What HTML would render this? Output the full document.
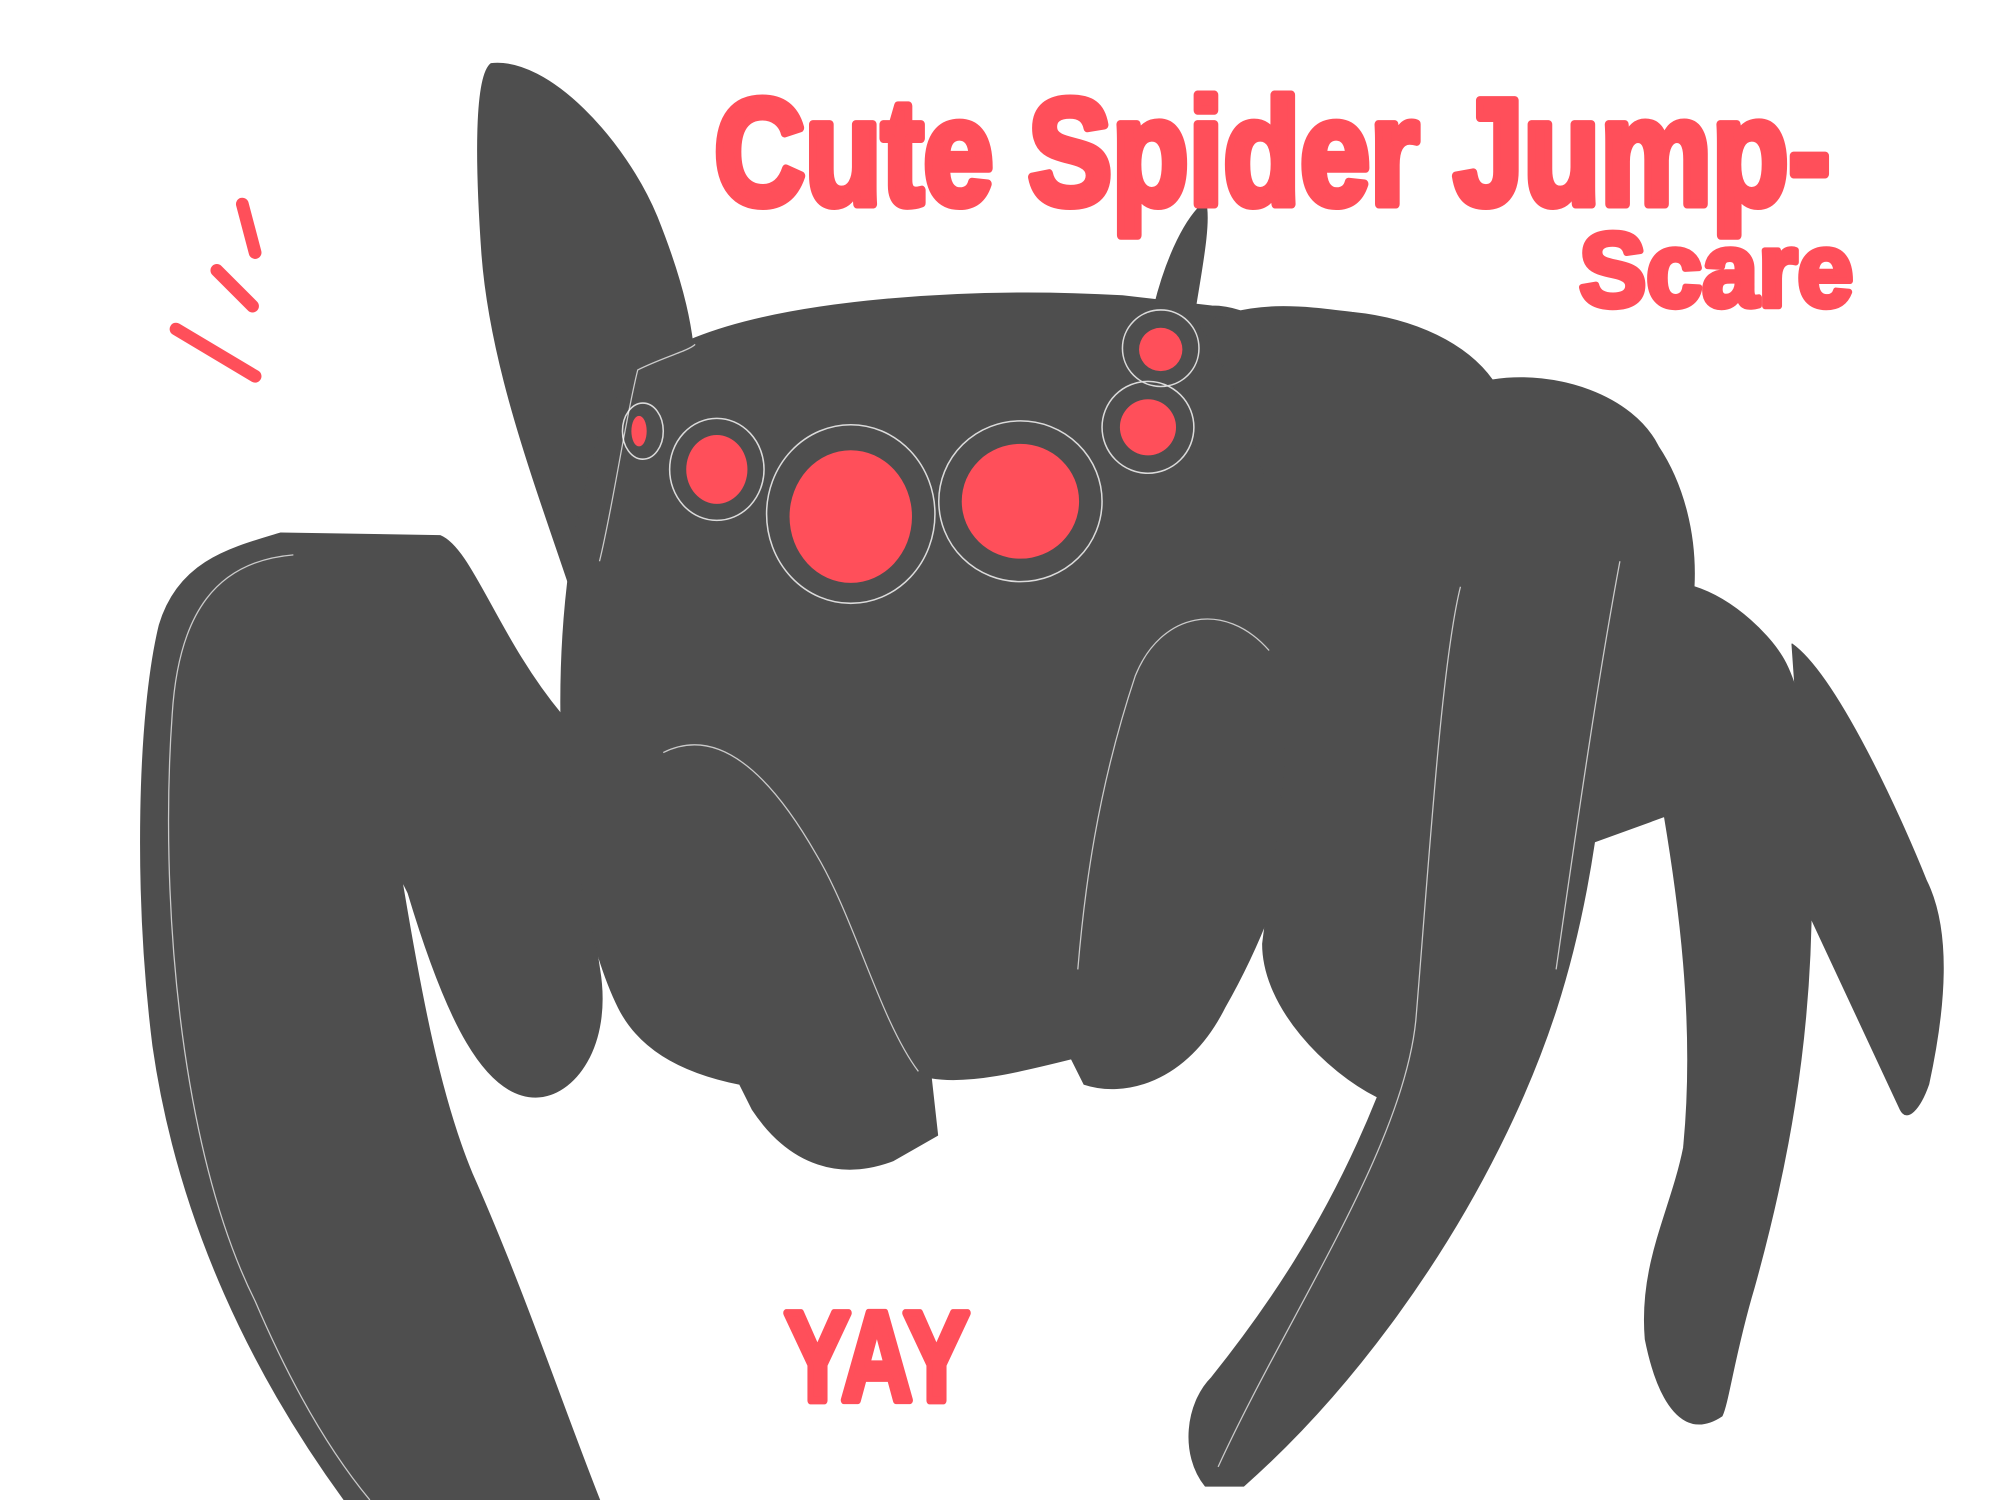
<!DOCTYPE html>
<html>
<head>
<meta charset="utf-8">
<style>
html,body{margin:0;padding:0;background:#fff;}
svg{display:block;}
</style>
</head>
<body>
<svg width="2000" height="1500" viewBox="0 0 1568 1176" xmlns="http://www.w3.org/2000/svg">
<rect width="1568" height="1176" fill="#ffffff"/>
<g fill="#4e4e4e" stroke="#4e4e4e" stroke-linejoin="round">
  <path d="M385,50 C430,45 490,110 515,170 C535,220 545,260 545,300 L490,320 L470,440 L450,470 C420,380 385,290 378,200 C373,130 372,60 385,50 Z"/>
  <path d="M220,418 L345,420 C370,430 390,500 440,560 L470,760 C480,820 450,860 420,860 C380,860 350,800 320,700 L315,690 C330,780 345,860 370,920 C410,1010 440,1100 470,1176 L270,1176 C200,1080 140,960 120,820 C105,700 108,560 125,490 C140,440 180,430 220,418 Z"/>
  <path d="M545,265 C620,235 760,225 880,232 L950,240 C980,240 1010,260 1020,300 C1040,380 1035,480 1030,560 C1025,640 1000,720 960,790 C930,850 880,860 850,850 L840,830 C800,840 760,850 730,845 L735,890 L700,910 C660,925 620,915 590,870 L580,850 C530,840 500,820 485,790 C460,740 445,650 440,570 C438,480 450,400 470,340 C490,290 510,280 545,265 Z"/>
  <path d="M905,240 C915,200 930,170 945,158 C950,175 940,220 935,255 Z"/>
  <path d="M940,255 C980,235 1020,240 1060,245 C1110,250 1150,270 1170,298 C1220,290 1280,310 1300,350 C1320,380 1330,420 1328,460 C1360,470 1390,500 1400,520 C1420,560 1420,620 1420,700 C1420,820 1400,920 1375,1010 C1360,1060 1355,1100 1350,1110 C1320,1130 1300,1100 1290,1050 C1285,990 1310,950 1320,900 C1330,800 1315,700 1305,640 L1250,660 C1235,760 1210,830 1175,900 C1130,990 1060,1090 975,1165 L945,1165 C925,1140 930,1100 950,1080 C990,1030 1040,960 1080,860 C1040,840 990,790 990,740 C1000,660 1010,600 1010,520 C1005,420 990,330 940,255 Z"/>
  <path d="M1405,505 C1440,530 1490,640 1510,690 C1530,730 1525,790 1512,850 C1505,870 1495,880 1490,870 L1420,720 Z"/>
</g>
<g fill="none" stroke="#ffffff" stroke-width="1" opacity="0.7">
  <path d="M230,435 C170,440 140,480 135,560 C125,700 140,900 200,1020 C230,1090 260,1140 290,1176"/>
  <path d="M520,590 C560,570 600,600 640,670 C670,720 690,800 720,840"/>
  <path d="M995,510 C960,470 910,480 890,530 C860,620 850,700 845,760"/>
  <path d="M1145,460 C1130,520 1120,680 1110,800 C1100,900 1010,1030 955,1150"/>
  <path d="M1270,440 C1255,520 1240,620 1220,760"/>
  <path d="M470,440 C480,400 490,330 500,290 C520,280 540,275 545,270"/>
</g>
<g fill="none" stroke="#ffffff" stroke-width="1.2" opacity="0.8">
  <ellipse cx="667" cy="403" rx="66" ry="70"/>
  <ellipse cx="800" cy="393" rx="64" ry="63"/>
  <ellipse cx="562" cy="368" rx="37" ry="40"/>
  <ellipse cx="504" cy="338" rx="16" ry="22"/>
  <ellipse cx="910" cy="273" rx="30" ry="30"/>
  <ellipse cx="900" cy="335" rx="36" ry="36"/>
</g>
<g fill="#ff4f5a">
  <ellipse cx="667" cy="405" rx="48" ry="52"/>
  <ellipse cx="800" cy="393" rx="46" ry="45"/>
  <ellipse cx="562" cy="368" rx="24" ry="27"/>
  <ellipse cx="501" cy="338" rx="6" ry="12"/>
  <ellipse cx="910" cy="274" rx="17" ry="17"/>
  <ellipse cx="900" cy="335" rx="22" ry="22"/>
</g>
<g stroke="#ff4f5a" stroke-width="10" stroke-linecap="round">
  <line x1="190" y1="160" x2="200" y2="198"/>
  <line x1="170" y1="212" x2="198" y2="240"/>
  <line x1="138" y1="258" x2="200" y2="295"/>
</g>
<g fill="#ff4f5a" stroke="#ff4f5a" stroke-linejoin="round" font-family="'Liberation Sans', sans-serif" font-weight="bold">
  <text x="560" y="160" font-size="118" stroke-width="7" textLength="875" lengthAdjust="spacingAndGlyphs">Cute Spider Jump-</text>
  <text x="1238" y="240" font-size="82" stroke-width="5" textLength="215" lengthAdjust="spacingAndGlyphs">Scare</text>
  <text x="615" y="1098" font-size="100" stroke-width="6" textLength="145" lengthAdjust="spacingAndGlyphs">YAY</text>
</g>
</svg>
</body>
</html>
